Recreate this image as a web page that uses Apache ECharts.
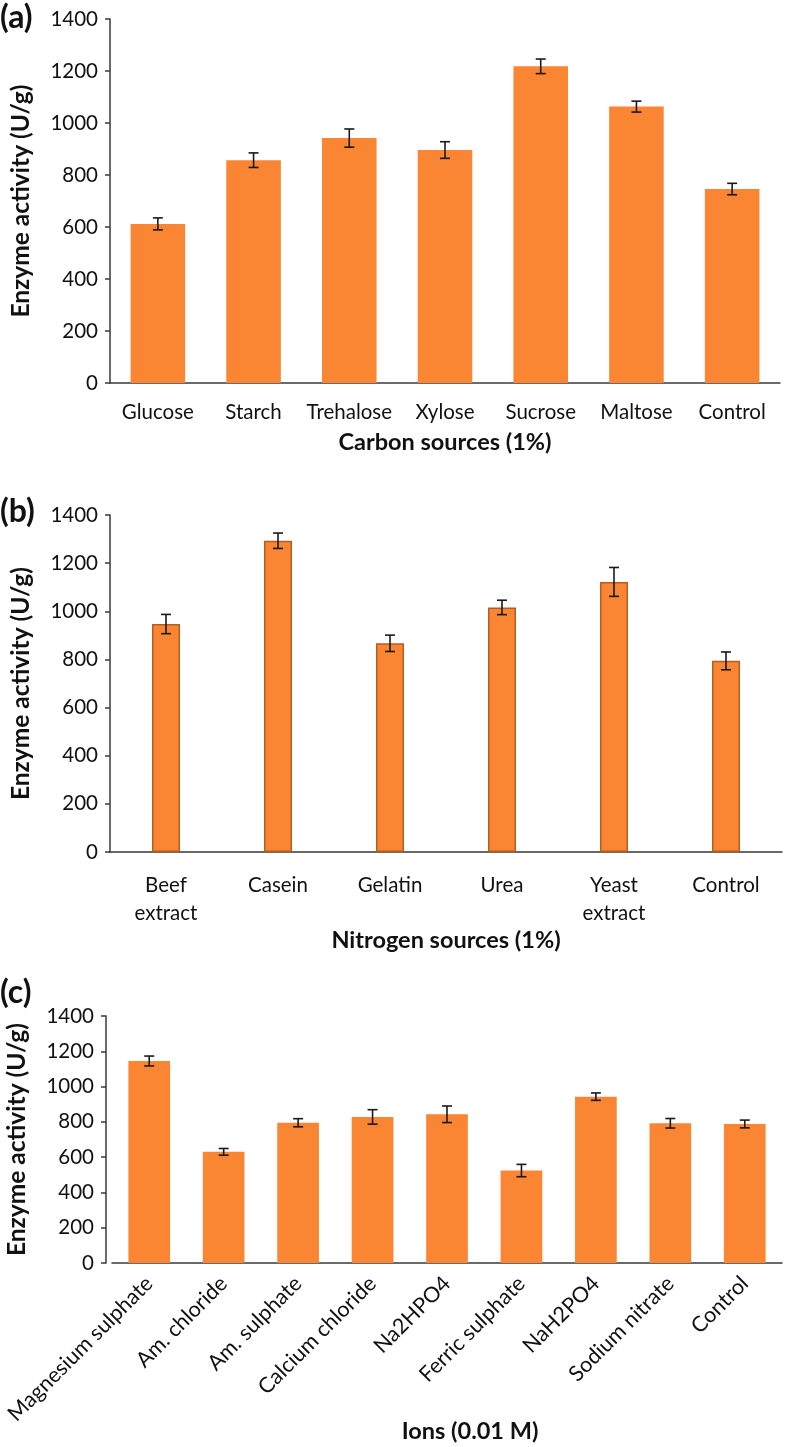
<!DOCTYPE html>
<html>
<head>
<meta charset="utf-8">
<script src="https://cdn.jsdelivr.net/npm/echarts@6/dist/echarts.min.js"></script>
<style>
html,body{margin:0;padding:0;background:#fff;}
#c{width:786px;height:1447px;}
</style>
</head>
<body>
<div id="c"></div>
<script>
// ---- data ----
const carbonCats = ['Glucose','Starch','Trehalose','Xylose','Sucrose','Maltose','Control'];
const carbonVals = [612, 857, 942, 896, 1218, 1063, 746];
const carbonErr  = [23, 28, 35, 32, 28, 21, 22];

const nitrogenCats = ['Beef\nextract','Casein','Gelatin','Urea','Yeast\nextract','Control'];
const nitrogenVals = [947, 1293, 867, 1016, 1122, 794];
const nitrogenErr  = [40, 32, 34, 30, 60, 37];

const ionCats = ['Magnesium sulphate','Am. chloride','Am. sulphate','Calcium chloride','Na2HPO4','Ferric sulphate','NaH2PO4','Sodium nitrate','Control'];
const ionVals = [1145, 630, 795, 828, 843, 524, 943, 792, 788];
const ionErr  = [28, 19, 23, 41, 47, 35, 21, 27, 22];

const yMin = 0, yMax = 1400, yStep = 200;
const yTitle = 'Enzyme activity (U/g)';
const xTitles = ['Carbon sources (1%)', 'Nitrogen sources (1%)', 'Ions (0.01 M)'];
const panelLabels = ['(a)', '(b)', '(c)'];

// ---- styles ----
const FONT = 'Lato';
const BAR = '#FA8634';
const AXIS = '#3a3a3a';
const TXT = '#111';
const LBL = 20.5;

function yAxisCfg(gi, offset) {
  return {
    type: 'value', gridIndex: gi, min: yMin, max: yMax, interval: yStep,
    offset: offset || 0,
    name: yTitle, nameLocation: 'middle', nameGap: 76, nameMoveOverlap: false,
    nameTextStyle: {fontFamily: FONT, fontWeight: 'bold', fontSize: 24.5, color: TXT},
    axisLine: {show: true, lineStyle: {color: AXIS, width: 1.5}},
    axisTick: {show: true, length: 5, lineStyle: {color: AXIS, width: 1.5}},
    axisLabel: {fontFamily: FONT, fontSize: LBL, color: TXT, margin: 12, formatter: v => String(v)},
    splitLine: {show: false}
  };
}
function xAxisCfg(gi, cats, extra) {
  return Object.assign({
    type: 'category', gridIndex: gi, data: cats,
    name: xTitles[gi], nameLocation: 'middle', nameMoveOverlap: false,
    nameTextStyle: {fontFamily: FONT, fontWeight: 'bold', fontSize: 23.5, color: TXT},
    axisLine: {show: true, lineStyle: {color: AXIS, width: 1.5}},
    axisTick: {show: false},
    axisLabel: {fontFamily: FONT, fontSize: LBL, color: TXT, margin: 19, interval: 0}
  }, extra);
}
function errSeries(gi, vals, errs) {
  return {
    type: 'custom', xAxisIndex: gi, yAxisIndex: gi, z: 10,
    data: vals.map((v, i) => [i, v - errs[i], v + errs[i]]),
    renderItem: function (params, api) {
      const lo = api.coord([api.value(0), api.value(1)]);
      const hi = api.coord([api.value(0), api.value(2)]);
      const w = 5;
      const st = {stroke: '#1a1a1a', lineWidth: 1.6};
      return {type: 'group', children: [
        {type: 'line', shape: {x1: lo[0], y1: lo[1], x2: hi[0], y2: hi[1]}, style: st},
        {type: 'line', shape: {x1: lo[0]-w, y1: lo[1], x2: lo[0]+w, y2: lo[1]}, style: st},
        {type: 'line', shape: {x1: hi[0]-w, y1: hi[1], x2: hi[0]+w, y2: hi[1]}, style: st}
      ]};
    }
  };
}

const option = {
  backgroundColor: '#fff',
  animation: false,
  grid: [
    {left: 110, width: 670, top: 19, height: 364, outerBoundsMode: 'none', containLabel: false},
    {left: 110, width: 672, top: 515, height: 337, outerBoundsMode: 'none', containLabel: false},
    {left: 112, width: 670, top: 1016, height: 247, outerBoundsMode: 'none', containLabel: false}
  ],
  xAxis: [
    xAxisCfg(0, carbonCats, {nameGap: 47}),
    xAxisCfg(1, nitrogenCats, {nameGap: 76, axisLabel: {fontFamily: FONT, fontSize: LBL, color: TXT, margin: 19, interval: 0, lineHeight: 28}}),
    xAxisCfg(2, ionCats, {nameGap: 156, nameTextStyle: {fontFamily: FONT, fontWeight: 'bold', fontSize: 23.5, color: TXT, padding: [0, 0, 0, 46]},
      axisLabel: {fontFamily: FONT, fontSize: 21.5, color: TXT, margin: 17, interval: 0, rotate: 45}})
  ],
  yAxis: [yAxisCfg(0), yAxisCfg(1), yAxisCfg(2, 6)],
  graphic: [
    {type: 'text', left: 0, top: 2, style: {text: panelLabels[0], font: 'bold 32px Lato', fill: TXT}},
    {type: 'text', left: 0, top: 496, style: {text: panelLabels[1], font: 'bold 32px Lato', fill: TXT}},
    {type: 'text', left: 0, top: 977, style: {text: panelLabels[2], font: 'bold 32px Lato', fill: TXT}}
  ],
  series: [
    {type: 'bar', xAxisIndex: 0, yAxisIndex: 0, data: carbonVals, barWidth: '57%', itemStyle: {color: BAR}},
    errSeries(0, carbonVals, carbonErr),
    {type: 'bar', xAxisIndex: 1, yAxisIndex: 1, data: nitrogenVals, barWidth: '25%', itemStyle: {color: BAR, borderColor: '#B65E1E', borderWidth: 1.5}},
    errSeries(1, nitrogenVals, nitrogenErr),
    {type: 'bar', xAxisIndex: 2, yAxisIndex: 2, data: ionVals, barWidth: '56%', itemStyle: {color: BAR}},
    errSeries(2, ionVals, ionErr)
  ]
};
const chart = echarts.init(document.getElementById('c'), null, {renderer: 'canvas'});
chart.setOption(option);
</script>
</body>
</html>
